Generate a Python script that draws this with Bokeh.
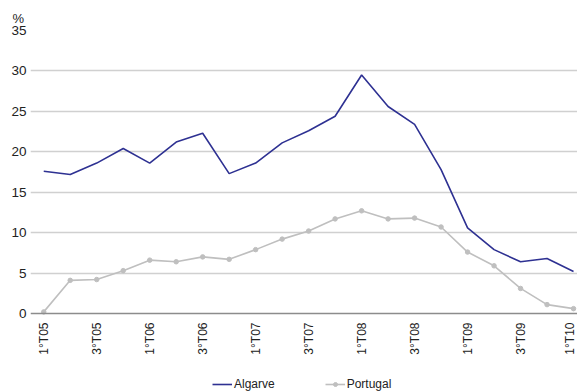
import math
from bokeh.plotting import figure
from bokeh.models import Range1d, FixedTicker, Legend, LegendItem
from bokeh.embed import file_html
from bokeh.resources import INLINE

# Quarterly series, 1st quarter 2005 to 1st quarter 2010
quarters = ["1°T05", "2°T05", "3°T05", "4°T05",
            "1°T06", "2°T06", "3°T06", "4°T06",
            "1°T07", "2°T07", "3°T07", "4°T07",
            "1°T08", "2°T08", "3°T08", "4°T08",
            "1°T09", "2°T09", "3°T09", "4°T09",
            "1°T10"]
algarve = [17.6, 17.2, 18.6, 20.4, 18.6, 21.2, 22.3, 17.3, 18.6, 21.1,
           22.6, 24.4, 29.5, 25.6, 23.4, 17.8, 10.6, 7.9, 6.4, 6.8, 5.2]
portugal = [0.2, 4.1, 4.2, 5.3, 6.6, 6.4, 7.0, 6.7, 7.9, 9.2,
            10.2, 11.7, 12.7, 11.7, 11.8, 10.7, 7.6, 5.9, 3.1, 1.1, 0.6]
y_ticks = [0, 5, 10, 15, 20, 25, 30, 35]

FONT = "Liberation Sans"
BLUE = "#2E3192"
GREY = "#BFBFBF"
TEXT = "#222222"

xs = list(range(len(quarters)))

# the plot area runs down to the bottom edge so the legend can sit under
# the quarter labels; the category axis is pinned at zero
p = figure(width=577, height=391, output_backend="svg", toolbar_location=None,
           x_range=Range1d(-0.5, 20.15), y_range=Range1d(-9.646, 35),
           min_border_left=30, min_border_right=0,
           min_border_top=30, min_border_bottom=0,
           title="%")
p.outline_line_color = None
p.background_fill_color = "white"
p.border_fill_color = "white"

# unit marker above the value axis
p.title.align = "left"
p.title.offset = -18
p.title.standoff = 9
p.title.text_font = FONT
p.title.text_font_size = "13px"
p.title.text_font_style = "normal"
p.title.text_color = TEXT

r_alg = p.line(xs, algarve, line_color=BLUE, line_width=1.6)
r_por = p.line(xs, portugal, line_color=GREY, line_width=1.6)
r_por_pts = p.scatter(xs, portugal, size=4.5, marker="circle",
                      fill_color=GREY, line_color=GREY)

# x axis: every other quarter labelled, vertical text
p.xaxis.fixed_location = 0
p.xaxis.ticker = FixedTicker(ticks=xs[::2])
p.xaxis.major_label_overrides = {i: quarters[i] for i in xs[::2]}
p.xaxis.major_label_orientation = math.pi / 2
p.xaxis.major_label_text_font = FONT
p.xaxis.major_label_text_font_size = "12px"
p.xaxis.major_label_text_color = TEXT
p.xaxis.major_label_standoff = 9
p.xaxis.major_tick_out = 0
p.xaxis.major_tick_in = 0
p.xaxis.major_tick_line_color = None
p.xaxis.minor_tick_line_color = None
p.xaxis.axis_line_color = "#8C8C8C"
p.xaxis.axis_line_width = 1.5

# y axis: labels only
p.yaxis.ticker = FixedTicker(ticks=y_ticks)
p.yaxis.major_label_text_font = FONT
p.yaxis.major_label_text_font_size = "13.5px"
p.yaxis.major_label_text_color = TEXT
p.yaxis.major_label_standoff = 4
p.yaxis.major_tick_out = 0
p.yaxis.major_tick_in = 0
p.yaxis.major_tick_line_color = None
p.yaxis.minor_tick_line_color = None
p.yaxis.axis_line_color = None

p.xgrid.grid_line_color = None
p.ygrid.ticker = FixedTicker(ticks=y_ticks[1:])
p.ygrid.grid_line_color = "#D0D0D0"
p.ygrid.grid_line_width = 1.5

legend = Legend(items=[LegendItem(label="Algarve", renderers=[r_alg]),
                       LegendItem(label="Portugal", renderers=[r_por, r_por_pts])],
                orientation="horizontal", location=(182, 0),
                label_text_font=FONT, label_text_font_size="12px",
                label_text_color=TEXT, glyph_width=20, glyph_height=10,
                label_standoff=2, spacing=50, padding=0, margin=0,
                border_line_color=None, background_fill_alpha=0)
p.add_layout(legend)

open("out.html", "w").write(file_html(p, INLINE))
